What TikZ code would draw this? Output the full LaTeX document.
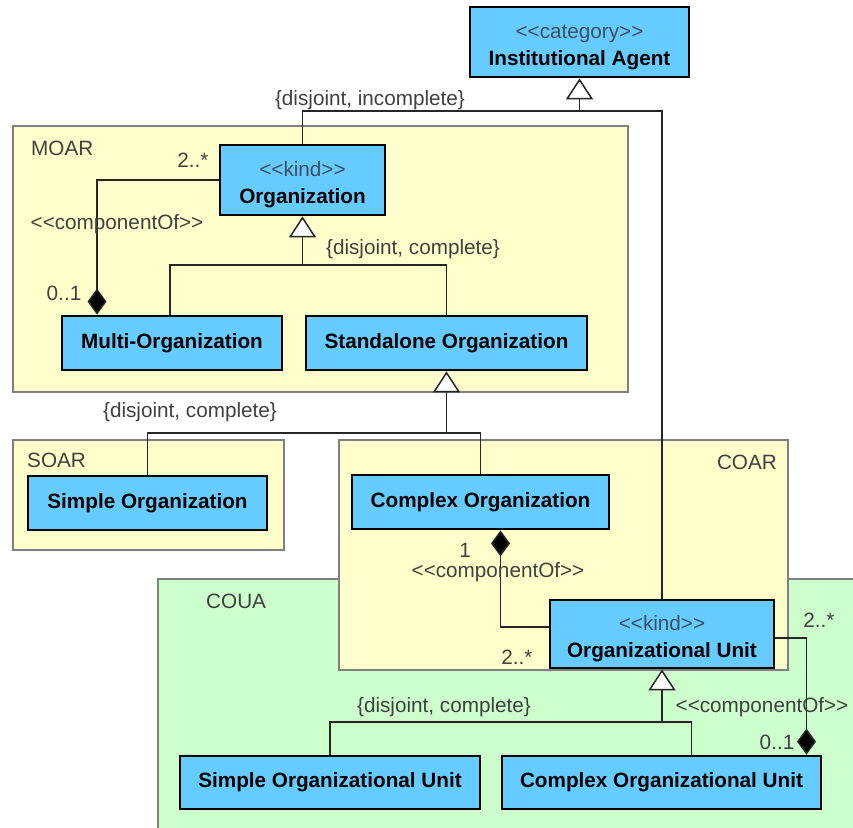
\documentclass[tikz,border=0pt]{standalone}
\usepackage{fontspec}
\setmainfont{Liberation Sans}
\usetikzlibrary{arrows.meta, positioning}
\definecolor{clsblue}{RGB}{102,204,255}
\definecolor{pkgyellow}{RGB}{255,255,204}
\definecolor{pkggreen}{RGB}{204,255,204}
\definecolor{pkgline}{RGB}{128,128,128}
\definecolor{txtgray}{RGB}{64,64,64}
\definecolor{stereocol}{RGB}{60,80,100}
\newcommand{\stereotype}[1]{{\mdseries\color{stereocol}<{}<#1>{}>}\\}
\tikzset{
  cls/.style={draw=black, line width=2.8pt, fill=clsblue, inner sep=0pt, align=center,
    font=\fontsize{20.7}{27}\selectfont\bfseries},
  twoline/.style={text height=51pt},
  pkg/.style={draw=pkgline, line width=1.2pt},
  lbl/.style={text=txtgray, font=\fontsize{20.7}{22}\selectfont, inner sep=0pt},
  conn/.style={line width=1.5pt, draw=black!85},
  gen/.style={conn, -{Triangle[width=27pt, length=21pt, fill=white, line width=1.5pt]}},
  comp/.style={conn, {Diamond[fill=black, width=19pt, length=26pt]}-},
}
\begin{document}
\begin{tikzpicture}[x=1pt, y=-1pt]
			\useasboundingbox (0,0) rectangle (853,827);
			% Packages
			\filldraw[pkg, fill=pkgyellow] (13,126) rectangle (628,392);
			\filldraw[pkg, fill=pkgyellow] (13,440) rectangle (284,550);
			\filldraw[pkg, fill=pkggreen] (158,579) rectangle (870,845);
			\filldraw[pkg, fill=pkgyellow] (339,440) rectangle (788,670);
			\node[lbl, anchor=west] (moar) at (31,148) {MOAR};
			\node[lbl, anchor=west] (soar) at (27,460) {SOAR};
			\node[lbl, anchor=east] (coar) at (777,462) {COAR};
			\node[lbl, anchor=west] (coua) at (206,601) {COUA};
			% Classes
			\node[cls, twoline, minimum width=219pt, minimum height=70pt] (ia) at (579.5,42) {\stereotype{category}Institutional Agent};
			\node[cls, twoline, minimum width=165pt, minimum height=70pt] (org) at (302.5,180) {\stereotype{kind}Organization};
			\node[cls, minimum width=220pt, minimum height=54pt] (multi) at (172,343) {Multi-Organization};
			\node[cls, minimum width=281pt, minimum height=54pt] (stand) at (446.5,343) {Standalone Organization};
			\node[cls, minimum width=239pt, minimum height=54pt] (sorg) at (147.5,503) {Simple Organization};
			\node[cls, minimum width=257pt, minimum height=54pt] (corg) at (480.5,502) {Complex Organization};
			\node[cls, twoline, minimum width=224pt, minimum height=68pt] (ou) at (662,634) {\stereotype{kind}Organizational Unit};
			\node[cls, minimum width=300pt, minimum height=53pt] (sou) at (330,782.5) {Simple Organizational Unit};
			\node[cls, minimum width=319pt, minimum height=53pt] (cou) at (661.5,782.5) {Complex Organizational Unit};
			% Generalizations
			\coordinate (iaj) at (579.5,111);
			\draw[gen] (org.north) |- (iaj) -- (ia.south);
			\draw[conn] (ou.north) |- (iaj);
			\node[lbl] (incgs) at (370,100) {\{disjoint, incomplete\}};
			\coordinate (orgj) at (302.5,265);
			\draw[gen] (orgj) -- (org.south);
			\draw[conn] ([xshift=-2pt]multi.north) |- (orgj) -| (stand.north);
			\node[lbl] (orggs) at (413,249) {\{disjoint, complete\}};
			\coordinate (standj) at (446.5,433);
			\draw[gen] (standj) -- (stand.south);
			\draw[conn] (sorg.north) |- (standj) -| (corg.north);
			\node[lbl] (standgs) at (190,412) {\{disjoint, complete\}};
			\coordinate (ouj) at (662,722);
			\draw[gen] (ouj) -- (ou.south);
			\draw[conn] (sou.north) |- (ouj) -| ([xshift=30pt]cou.north);
			\node[lbl] (ougs) at (444,707) {\{disjoint, complete\}};
			% Compositions
			\draw[comp] ([xshift=-75pt]multi.north) |- (org.west);
			\node[lbl] (orgmax) at (193,160) {2..*};
			\node[lbl] (orgcomp) at (117,224) {<{}<componentOf>{}>};
			\node[lbl] (multimin) at (64,293) {0..1};
			\draw[comp] ([xshift=20pt]corg.south) |- ([yshift=7pt]ou.west);
			\node[lbl] (corgone) at (465,550) {1};
			\node[lbl] (corgcomp) at (498,572) {<{}<componentOf>{}>};
			\node[lbl] (oumax) at (517,657) {2..*};
			\draw[comp] ([xshift=145pt]cou.north) |- ([yshift=-4pt]ou.east);
			\node[lbl] (oumax2) at (819,620) {2..*};
			\node[lbl] (oucomp) at (762,707) {<{}<componentOf>{}>};
			\node[lbl] (coumin) at (777,742) {0..1};
		\end{tikzpicture}
\end{document}
